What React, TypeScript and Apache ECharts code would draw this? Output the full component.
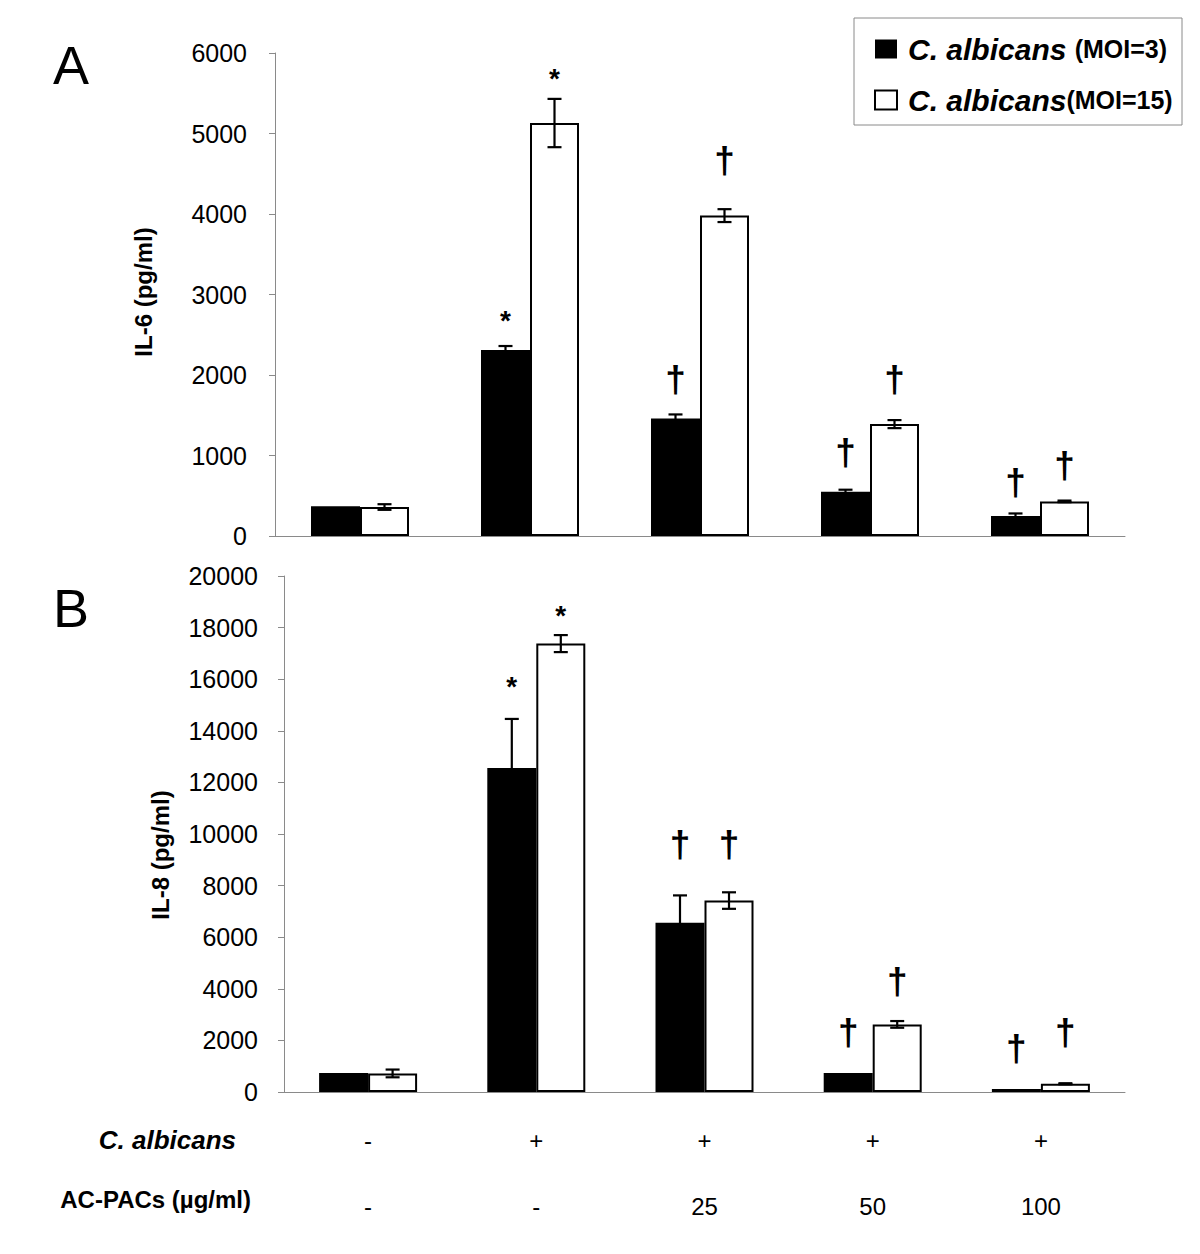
import React, { useEffect, useRef } from "react";
import * as echarts from "echarts";

// ---- data ----
const categories = ["g1", "g2", "g3", "g4", "g5"];
const candidaRow = ["-", "+", "+", "+", "+"];
const acpacRow = ["-", "-", "25", "50", "100"];
const seriesNames = ["C. albicans (MOI=3)", "C. albicans(MOI=15)"];

const il6Ticks = { min: 0, max: 6000, interval: 1000 };
const il8Ticks = { min: 0, max: 20000, interval: 2000 };

const il6Moi3 = [370, 2310, 1460, 550, 250];
const il6Moi3Err = [0, 50, 50, 25, 30];
const il6Moi15 = [360, 5130, 3980, 1390, 430];
const il6Moi15Err = [35, 300, 80, 50, 10];

const il8Moi3 = [740, 12560, 6560, 740, 120];
const il8Moi3Err = [0, 1900, 1060, 0, 0];
const il8Moi15 = [720, 17380, 7420, 2620, 320];
const il8Moi15Err = [150, 330, 320, 130, 20];

// significance marks and the value level at which each is drawn
const il6Moi3Mark = ["", "*", "†", "†", "†"];
const il6Moi3MarkAt = [0, 2770, 1940, 1040, 660];
const il6Moi15Mark = ["", "*", "†", "†", "†"];
const il6Moi15MarkAt = [0, 5770, 4670, 1940, 870];

const il8Moi3Mark = ["", "*", "†", "†", "†"];
const il8Moi3MarkAt = [0, 16000, 9600, 2320, 1700];
const il8Moi15Mark = ["", "*", "†", "†", "†"];
const il8Moi15MarkAt = [0, 18740, 9600, 4300, 2320];

const FONT = "Arial, 'Liberation Sans', Helvetica, sans-serif";
const BAR_W = 49;
const AXIS_GRAY = "#8a8a8a";

function errSeries(
  values: number[],
  errs: number[],
  marks: string[],
  markAt: number[],
  side: number,
  axisIndex: number
) {
  return {
    type: "custom",
    xAxisIndex: axisIndex,
    yAxisIndex: axisIndex,
    z: 5,
    silent: true,
    encode: { x: 0, y: 1 },
    data: values.map((v, i) => [i, v, errs[i]]),
    renderItem: (params: any, api: any) => {
      const i = api.value(0);
      const v = api.value(1);
      const e = api.value(2);
      const p = api.coord([i, v]);
      const x = p[0] + (side * BAR_W) / 2;
      const children: any[] = [];
      const stroke = { stroke: "#000", lineWidth: 2.2 };
      if (e > 0) {
        const top = api.coord([i, v + e])[1];
        const bot = api.coord([i, Math.max(0, v - e)])[1];
        children.push({ type: "line", shape: { x1: x, y1: top, x2: x, y2: bot }, style: stroke });
        children.push({ type: "line", shape: { x1: x - 7, y1: top, x2: x + 7, y2: top }, style: stroke });
        children.push({ type: "line", shape: { x1: x - 7, y1: bot, x2: x + 7, y2: bot }, style: stroke });
      }
      const m = marks[params.dataIndex];
      if (m) {
        const y = api.coord([i, markAt[params.dataIndex]])[1];
        const isStar = m === "*";
        children.push({
          type: "text",
          x,
          y: y + (isStar ? 7 : 0),
          style: {
            text: m,
            fill: "#000",
            fontFamily: FONT,
            fontWeight: "bold",
            fontSize: isStar ? 28 : 37,
            align: "center",
            verticalAlign: "middle",
          },
        });
      }
      return { type: "group", children };
    },
  };
}

export default function App() {
  const ref = useRef<HTMLDivElement>(null);

  useEffect(() => {
    if (!ref.current) return;
    const chart = echarts.init(ref.current, undefined, { renderer: "svg" });

    const yAxisCommon = (ticks: any, margin: number, idx: number) => ({
      type: "value",
      gridIndex: idx,
      min: ticks.min,
      max: ticks.max,
      interval: ticks.interval,
      splitLine: { show: false },
      axisLine: { show: true, lineStyle: { color: AXIS_GRAY, width: 1 } },
      axisTick: { show: true, length: 6, lineStyle: { color: AXIS_GRAY } },
      axisLabel: {
        color: "#000",
        fontFamily: FONT,
        fontSize: 25,
        margin,
        formatter: (v: number) => String(v),
      },
    });

    const option: any = {
      animation: false,
      backgroundColor: "#fff",
      grid: [
        { left: 275, right: 75, top: 53, height: 483 },
        { left: 284, right: 75, top: 576, height: 516 },
      ],
      xAxis: [
        {
          type: "category",
          gridIndex: 0,
          data: categories,
          axisLine: { lineStyle: { color: AXIS_GRAY } },
          axisTick: { length: 6, lineStyle: { color: AXIS_GRAY } },
          axisLabel: { show: false },
        },
        {
          type: "category",
          gridIndex: 1,
          data: categories,
          axisLine: { lineStyle: { color: AXIS_GRAY } },
          axisTick: { length: 6, lineStyle: { color: AXIS_GRAY } },
          axisLabel: {
            margin: 15,
            formatter: (_v: string, i: number) => `{a|${candidaRow[i]}}\n{b|${acpacRow[i]}}`,
            rich: {
              a: { fontFamily: FONT, fontSize: 24, color: "#000", lineHeight: 66 },
              b: { fontFamily: FONT, fontSize: 24, color: "#000", lineHeight: 66 },
            },
          },
        },
      ],
      yAxis: [yAxisCommon(il6Ticks, 28, 0), yAxisCommon(il8Ticks, 26, 1)],
      legend: {
        data: seriesNames,
        orient: "vertical",
        left: 869,
        top: 29,
        itemWidth: 22,
        itemHeight: 19,
        itemGap: 21,
        icon: "rect",
        selectedMode: false,
        formatter: (name: string) => {
          const k = name.indexOf("(");
          return `{i|${name.slice(0, k)}}{n|${name.slice(k)}}`;
        },
        textStyle: {
          padding: [0, 0, 0, 6],
          rich: {
            i: { fontFamily: FONT, fontStyle: "italic", fontWeight: "bold", fontSize: 30, lineHeight: 34, color: "#000" },
            n: { fontFamily: FONT, fontWeight: "bold", fontSize: 25, lineHeight: 34, color: "#000" },
          },
        },
      },
      series: [
        {
          name: seriesNames[0], type: "bar", xAxisIndex: 0, yAxisIndex: 0,
          barWidth: BAR_W, barGap: "0%", data: il6Moi3,
          itemStyle: { color: "#000" },
        },
        {
          name: seriesNames[1], type: "bar", xAxisIndex: 0, yAxisIndex: 0,
          barWidth: BAR_W, barGap: "0%", data: il6Moi15,
          itemStyle: { color: "#fff", borderColor: "#000", borderWidth: 2 },
        },
        {
          name: seriesNames[0], type: "bar", xAxisIndex: 1, yAxisIndex: 1,
          barWidth: BAR_W, barGap: "0%", data: il8Moi3,
          itemStyle: { color: "#000" },
        },
        {
          name: seriesNames[1], type: "bar", xAxisIndex: 1, yAxisIndex: 1,
          barWidth: BAR_W, barGap: "0%", data: il8Moi15,
          itemStyle: { color: "#fff", borderColor: "#000", borderWidth: 2 },
        },
        errSeries(il6Moi3, il6Moi3Err, il6Moi3Mark, il6Moi3MarkAt, -1, 0),
        errSeries(il6Moi15, il6Moi15Err, il6Moi15Mark, il6Moi15MarkAt, 1, 0),
        errSeries(il8Moi3, il8Moi3Err, il8Moi3Mark, il8Moi3MarkAt, -1, 1),
        errSeries(il8Moi15, il8Moi15Err, il8Moi15Mark, il8Moi15MarkAt, 1, 1),
      ],
      graphic: [
        {
          type: "rect", z: 0,
          shape: { x: 854, y: 18, width: 328, height: 107 },
          style: { fill: "#fff", stroke: "#8a8a8a", lineWidth: 1 },
        },
        { type: "text", x: 71, y: 65, style: { text: "A", fontFamily: FONT, fontSize: 54, fill: "#000", align: "center", verticalAlign: "middle" } },
        { type: "text", x: 71, y: 608, style: { text: "B", fontFamily: FONT, fontSize: 54, fill: "#000", align: "center", verticalAlign: "middle" } },
        {
          type: "text", x: 143, y: 292, rotation: Math.PI / 2,
          style: { text: "IL-6 (pg/ml)", fontFamily: FONT, fontWeight: "bold", fontSize: 24, fill: "#000", align: "center", verticalAlign: "middle" },
        },
        {
          type: "text", x: 160, y: 855, rotation: Math.PI / 2,
          style: { text: "IL-8 (pg/ml)", fontFamily: FONT, fontWeight: "bold", fontSize: 24, fill: "#000", align: "center", verticalAlign: "middle" },
        },
        {
          type: "text", x: 236, y: 1140,
          style: { text: "C. albicans", fontFamily: FONT, fontWeight: "bold", fontStyle: "italic", fontSize: 26, fill: "#000", align: "right", verticalAlign: "middle" },
        },
        {
          type: "text", x: 251, y: 1199,
          style: { text: "AC-PACs (µg/ml)", fontFamily: FONT, fontWeight: "bold", fontSize: 24, fill: "#000", align: "right", verticalAlign: "middle" },
        },
      ],
    };

    chart.setOption(option);
    return () => chart.dispose();
  }, []);

  return (
    <div
      ref={ref}
      style={{ position: "absolute", left: 0, top: 0, width: 1200, height: 1254, background: "#fff" }}
    />
  );
}
